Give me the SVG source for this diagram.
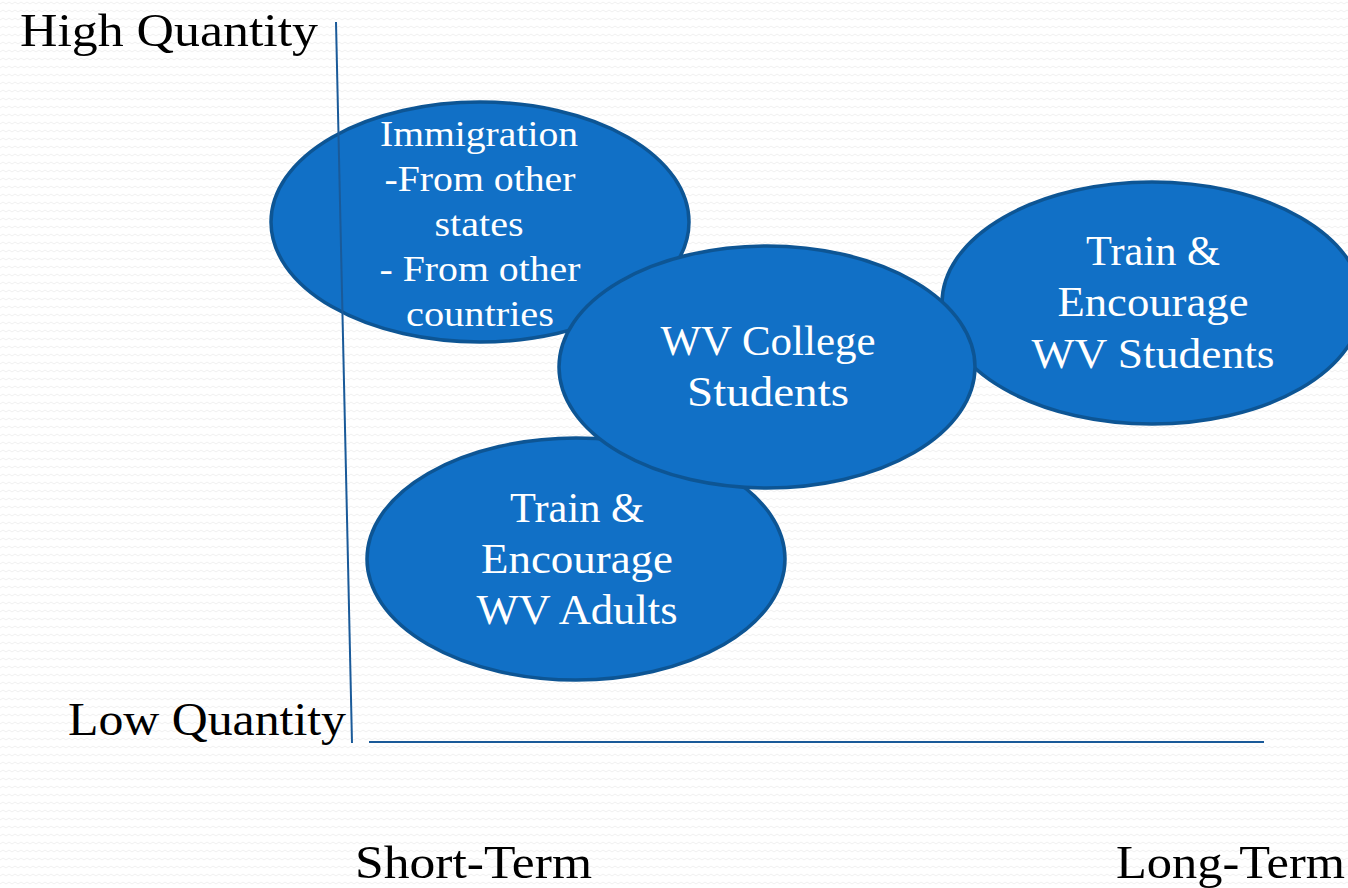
<svg xmlns="http://www.w3.org/2000/svg" width="1348" height="888" viewBox="0 0 1348 888">
<style>
.bubble{fill:#1170c6;stroke:#0d5594;stroke-width:3.5}
.lbl{fill:#ffffff;font-family:"Liberation Serif","DejaVu Serif",serif;text-anchor:middle}
.axis-t{fill:#000000;font-family:"Liberation Serif","DejaVu Serif",serif;font-size:46px}
.axis{stroke:#1a5a99;stroke-width:2;fill:none}
</style>
<defs>
<pattern id="bg" width="12" height="8" patternUnits="userSpaceOnUse">
<path d="M0 4 L3 2 L6 4 L9 2 L12 4" stroke="#f0f0f0" stroke-width="1" fill="none"/>
</pattern>
</defs>
<rect width="1348" height="888" fill="#ffffff"/>
<rect width="1348" height="888" fill="url(#bg)"/>
<g id="immigration">
<ellipse class="bubble" cx="480" cy="222" rx="209" ry="120"/>
<text class="lbl" font-size="36" x="479" y="146" textLength="198" lengthAdjust="spacingAndGlyphs">Immigration</text>
<text class="lbl" font-size="36" x="480" y="191" textLength="191" lengthAdjust="spacingAndGlyphs">-From other</text>
<text class="lbl" font-size="36" x="479" y="236" textLength="89" lengthAdjust="spacingAndGlyphs">states</text>
<text class="lbl" font-size="36" x="480" y="281" textLength="201" lengthAdjust="spacingAndGlyphs">- From other</text>
<text class="lbl" font-size="36" x="480" y="326" textLength="148" lengthAdjust="spacingAndGlyphs">countries</text>
</g>
<g id="wv-adults">
<ellipse class="bubble" cx="576" cy="559" rx="209" ry="121"/>
<text class="lbl" font-size="42" x="577" y="522" textLength="134" lengthAdjust="spacingAndGlyphs">Train &amp;</text>
<text class="lbl" font-size="42" x="577" y="573" textLength="192" lengthAdjust="spacingAndGlyphs">Encourage</text>
<text class="lbl" font-size="42" x="577" y="624" textLength="201" lengthAdjust="spacingAndGlyphs">WV Adults</text>
</g>
<g id="wv-students">
<ellipse class="bubble" cx="1152" cy="303" rx="210" ry="121"/>
<text class="lbl" font-size="42" x="1153" y="265" textLength="134" lengthAdjust="spacingAndGlyphs">Train &amp;</text>
<text class="lbl" font-size="42" x="1153" y="316" textLength="191" lengthAdjust="spacingAndGlyphs">Encourage</text>
<text class="lbl" font-size="42" x="1153" y="368" textLength="243" lengthAdjust="spacingAndGlyphs">WV Students</text>
</g>
<g id="wv-college">
<ellipse class="bubble" cx="767" cy="367" rx="208" ry="121"/>
<text class="lbl" font-size="42" x="768" y="355" textLength="215" lengthAdjust="spacingAndGlyphs">WV College</text>
<text class="lbl" font-size="42" x="768" y="406" textLength="162" lengthAdjust="spacingAndGlyphs">Students</text>
</g>
<g id="connectors">
<line class="axis" x1="336" y1="22" x2="352" y2="743"/>
<line class="axis" x1="369" y1="742" x2="1264" y2="742"/>
</g>
<g id="axis-labels">
<text class="axis-t" x="20" y="46" textLength="298" lengthAdjust="spacingAndGlyphs">High Quantity</text>
<text class="axis-t" x="68" y="735" textLength="278" lengthAdjust="spacingAndGlyphs">Low Quantity</text>
<text class="axis-t" x="355" y="878" textLength="237" lengthAdjust="spacingAndGlyphs">Short-Term</text>
<text class="axis-t" x="1116" y="878" textLength="229" lengthAdjust="spacingAndGlyphs">Long-Term</text>
</g>
</svg>
